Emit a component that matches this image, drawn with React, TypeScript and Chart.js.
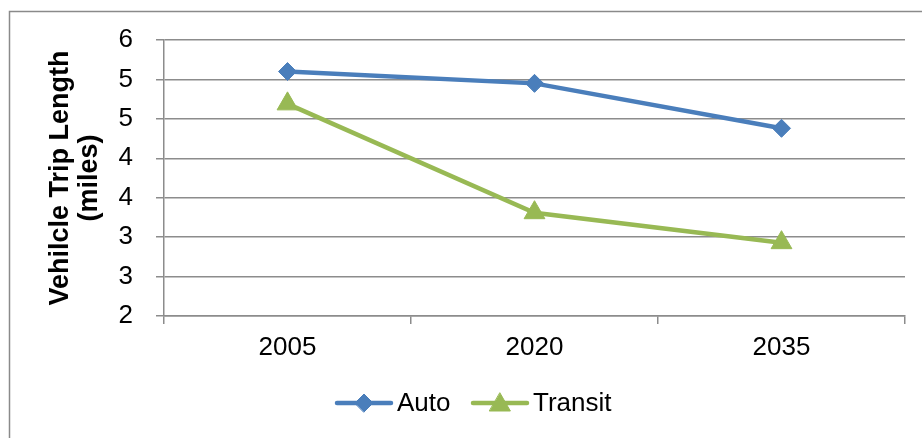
import React, { useEffect, useRef } from "react";
import { Chart, registerables } from "chart.js";

Chart.register(...registerables);

const years = ["2005", "2020", "2035"];
const autoTrip = [5.1, 4.95, 4.38];
const transitTrip = [4.69, 3.31, 2.93];
const yMin = 2;
const yMax = 5.5;
const yStep = 0.5;

const AUTO_COLOR = "#4A7EBB";
const TRANSIT_COLOR = "#98B954";
const GRID_COLOR = "#8C8C8C";
const FONT = "Arial, 'Liberation Sans', sans-serif";

// Same marker geometry Chart.js uses for 'rectRot' and 'triangle'
function markerPath(ctx: CanvasRenderingContext2D, style: string, r: number, x: number, y: number) {
  ctx.beginPath();
  if (style === "rectRot") {
    ctx.moveTo(x - r, y);
    ctx.lineTo(x, y - r);
    ctx.lineTo(x + r, y);
    ctx.lineTo(x, y + r);
  } else {
    ctx.moveTo(x, y - r);
    ctx.lineTo(x + r * Math.sin((2 * Math.PI) / 3), y + r / 2);
    ctx.lineTo(x - r * Math.sin((2 * Math.PI) / 3), y + r / 2);
  }
  ctx.closePath();
}

// Outer frame and the line-with-marker legend under the plot
const framePlugin = {
  id: "frameAndLegend",
  afterDraw(chart: any) {
    const ctx: CanvasRenderingContext2D = chart.ctx;
    ctx.save();
    ctx.strokeStyle = "#8A8A8A";
    ctx.lineWidth = 1.5;
    ctx.strokeRect(9.5, 11.5, 1200, 1200);

    const items = [
      { label: "Auto", color: AUTO_COLOR, style: "rectRot", radius: 9, x0: 337 },
      { label: "Transit", color: TRANSIT_COLOR, style: "triangle", radius: 12, x0: 473 },
    ];
    const y = 403;
    ctx.font = `26px ${FONT}`;
    ctx.textBaseline = "middle";
    ctx.textAlign = "left";
    for (const it of items) {
      ctx.strokeStyle = it.color;
      ctx.lineWidth = 4.5;
      ctx.lineCap = "round";
      ctx.beginPath();
      ctx.moveTo(it.x0, y);
      ctx.lineTo(it.x0 + 54, y);
      ctx.stroke();
      ctx.fillStyle = it.color;
      ctx.lineWidth = 1;
      markerPath(ctx, it.style, it.radius, it.x0 + 27, it.style === "triangle" ? y + 2 : y);
      ctx.fill();
      ctx.stroke();
      ctx.fillStyle = "#000";
      ctx.fillText(it.label, it.x0 + 60, y + 1);
    }
    ctx.restore();
  },
};

export default function App() {
  const canvasRef = useRef<HTMLCanvasElement | null>(null);

  useEffect(() => {
    if (!canvasRef.current) return;
    const chart = new Chart(canvasRef.current, {
      type: "line",
      data: {
        labels: years,
        datasets: [
          {
            label: "Auto",
            data: autoTrip,
            borderColor: AUTO_COLOR,
            backgroundColor: AUTO_COLOR,
            borderWidth: 4.5,
            pointStyle: "rectRot",
            pointRadius: 9,
            pointBorderWidth: 1,
            tension: 0,
          },
          {
            label: "Transit",
            data: transitTrip,
            borderColor: TRANSIT_COLOR,
            backgroundColor: TRANSIT_COLOR,
            borderWidth: 4.5,
            pointStyle: "triangle",
            pointRadius: 12,
            pointBorderWidth: 1,
            tension: 0,
          },
        ],
      },
      options: {
        animation: false,
        responsive: false,
        maintainAspectRatio: false,
        layout: { padding: { left: 0, top: 40, right: 17, bottom: 0 } },
        plugins: { legend: { display: false }, tooltip: { enabled: false } },
        scales: {
          x: {
            offset: true,
            grid: {
              offset: true,
              drawOnChartArea: false,
              drawTicks: true,
              tickLength: 8,
              color: GRID_COLOR,
              lineWidth: 1.5,
            },
            border: { display: true, color: GRID_COLOR, width: 1.5 },
            ticks: { color: "#000", font: { family: FONT, size: 26 }, padding: 8 },
            afterFit: (s: any) => {
              s.height = 122;
            },
          },
          y: {
            min: yMin,
            max: yMax,
            grid: { color: GRID_COLOR, lineWidth: 1.5, tickLength: 8 },
            border: { display: true, color: GRID_COLOR, width: 1.5 },
            ticks: {
              stepSize: yStep,
              color: "#000",
              font: { family: FONT, size: 26 },
              padding: 23,
              callback: (v: any) => String(Math.round(Number(v))),
            },
            title: {
              display: true,
              text: ["Vehilcle Trip Length", "(miles)"],
              color: "#000",
              font: { family: FONT, size: 27, weight: "bold", lineHeight: 1.07 },
              padding: { top: 46, bottom: 0 },
            },
            afterFit: (s: any) => {
              s.width = 164;
            },
          },
        },
      },
      plugins: [framePlugin],
    });
    return () => chart.destroy();
  }, []);

  return (
    <div style={{ position: "absolute", left: 0, top: 0, width: 922, height: 438, background: "#fff" }}>
      <canvas ref={canvasRef} width={922} height={438} style={{ width: 922, height: 438 }} />
    </div>
  );
}
